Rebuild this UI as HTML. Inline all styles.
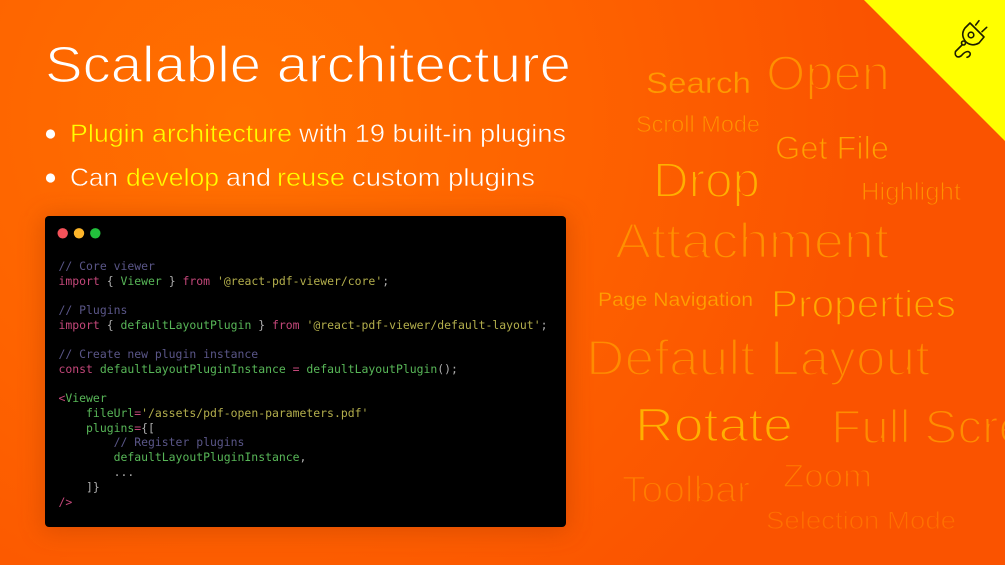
<!DOCTYPE html>
<html><head><meta charset="utf-8"><style>
html,body{margin:0;padding:0;width:1005px;height:565px;overflow:hidden}
svg{display:block}
.h{font-family:"Liberation Sans",sans-serif;font-weight:400;stroke:url(#bg);stroke-width:.5px}
.t{font-family:"Liberation Sans",sans-serif;font-weight:400;stroke:url(#bg);stroke-width:1.3px}
.w{font-family:"Liberation Sans",sans-serif;font-weight:400;stroke:url(#bg)}
.c{font-family:"DejaVu Sans Mono","Liberation Mono",monospace;font-size:11.45px;white-space:pre}
.k{fill:#c4477a}.g{fill:#58b758}.s{fill:#b3ae4c}.m{fill:#5a5688}.p{fill:#adadad}
</style></head><body>
<svg width="1005" height="565" viewBox="0 0 1005 565" xmlns="http://www.w3.org/2000/svg">
<defs>
<radialGradient id="bg" gradientUnits="userSpaceOnUse" cx="240" cy="120" r="640">
<stop offset="0" stop-color="#ff7000"/><stop offset=".5" stop-color="#fe6300"/><stop offset="1" stop-color="#fa5300"/>
</radialGradient>
<filter id="sh" x="-10%" y="-15%" width="120%" height="130%"><feGaussianBlur stdDeviation="12"/></filter>
</defs>
<rect width="1005" height="565" fill="url(#bg)"/>
<polygon points="864,0 1005,0 1005,141" fill="#ffff00"/>
<g fill="none" stroke="#1c1c00" stroke-width="1.6" stroke-linecap="round" stroke-linejoin="round">
<path d="M970 23 L984 37 L979 43 Q972 47 966 42 Q960 35 965 28 Z"/>
<circle cx="971" cy="35" r="2.800"/>
<path d="M975.700 25 L979 20.700 M982 31.700 L986.700 27.300"/>
<circle cx="963.500" cy="43" r="2"/>
<path d="M962 45 L955.500 51.500 Q954.500 55 957 56.700 Q960 57.500 962 55 Q965 51.500 968 51.500 Q971 52.500 970 55 Q969 57 967 57.300"/>
</g>
<text class="t" x="45" y="82" fill="#fff" font-size="51" textLength="526" lengthAdjust="spacingAndGlyphs">Scalable architecture</text>
<circle cx="50.500" cy="134" r="4.600" fill="#fff"/><circle cx="50.500" cy="178" r="4.600" fill="#fff"/>
<text class="h" x="70" y="142" font-size="25" fill="#ffff00" textLength="222" lengthAdjust="spacingAndGlyphs">Plugin architecture</text>
<text class="h" x="299" y="142" font-size="25" fill="#fff" textLength="267" lengthAdjust="spacingAndGlyphs">with 19 built-in plugins</text>
<text class="h" x="70" y="186" font-size="25" fill="#fff" textLength="48" lengthAdjust="spacingAndGlyphs">Can</text>
<text class="h" x="126" y="186" font-size="25" fill="#ffff00" textLength="93" lengthAdjust="spacingAndGlyphs">develop</text>
<text class="h" x="226" y="186" font-size="25" fill="#fff" textLength="45" lengthAdjust="spacingAndGlyphs">and</text>
<text class="h" x="277" y="186" font-size="25" fill="#ffff00" textLength="68" lengthAdjust="spacingAndGlyphs">reuse</text>
<text class="h" x="352" y="186" font-size="25" fill="#fff" textLength="183" lengthAdjust="spacingAndGlyphs">custom plugins</text>
<rect x="42" y="216" width="527" height="316" rx="6" fill="#b83c00" opacity=".45" filter="url(#sh)"/>
<rect x="45" y="216" width="521" height="311" rx="4" fill="#000"/>
<circle cx="62.700" cy="233.300" r="5.200" fill="#f5525a"/><circle cx="79" cy="233.300" r="5.200" fill="#fdb52a"/><circle cx="95.300" cy="233.300" r="5.200" fill="#22c03c"/>
<text class="c m" x="58.500" y="270">// Core viewer</text>
<text class="c" x="58.500" y="285"><tspan class="k">import</tspan><tspan class="p"> { </tspan><tspan class="g">Viewer</tspan><tspan class="p"> } </tspan><tspan class="k">from</tspan><tspan class="p"> </tspan><tspan class="s">'@react-pdf-viewer/core'</tspan><tspan class="p">;</tspan></text>
<text class="c m" x="58.500" y="314">// Plugins</text>
<text class="c" x="58.500" y="329"><tspan class="k">import</tspan><tspan class="p"> { </tspan><tspan class="g">defaultLayoutPlugin</tspan><tspan class="p"> } </tspan><tspan class="k">from</tspan><tspan class="p"> </tspan><tspan class="s">'@react-pdf-viewer/default-layout'</tspan><tspan class="p">;</tspan></text>
<text class="c m" x="58.500" y="358">// Create new plugin instance</text>
<text class="c" x="58.500" y="373"><tspan class="k">const</tspan><tspan class="p"> </tspan><tspan class="g">defaultLayoutPluginInstance</tspan><tspan class="p"> </tspan><tspan class="k">=</tspan><tspan class="p"> </tspan><tspan class="g">defaultLayoutPlugin</tspan><tspan class="p">();</tspan></text>
<text class="c" x="58.500" y="402"><tspan class="k">&lt;</tspan><tspan class="g">Viewer</tspan></text>
<text class="c" x="58.500" y="417"><tspan class="g">    fileUrl</tspan><tspan class="k">=</tspan><tspan class="s">'/assets/pdf-open-parameters.pdf'</tspan></text>
<text class="c" x="58.500" y="432"><tspan class="g">    plugins</tspan><tspan class="k">=</tspan><tspan class="p">{[</tspan></text>
<text class="c m" x="58.500" y="446">        // Register plugins</text>
<text class="c" x="58.500" y="461"><tspan class="g">        defaultLayoutPluginInstance</tspan><tspan class="p">,</tspan></text>
<text class="c p" x="58.500" y="476">        ...</text>
<text class="c p" x="58.500" y="491">    ]}</text>
<text class="c k" x="58.500" y="506">/&gt;</text>
<g>
<text class="w" style="stroke-width:.4px" fill="#ff9a00" x="646" y="93" font-size="30" textLength="105" lengthAdjust="spacingAndGlyphs">Search</text>
<text class="w" style="stroke-width:2.100px" fill="#ff9000" x="766" y="90" font-size="49" textLength="124" lengthAdjust="spacingAndGlyphs">Open</text>
<text class="w" style="stroke-width:.8px" fill="#ff9400" x="636" y="132" font-size="23" textLength="124" lengthAdjust="spacingAndGlyphs">Scroll Mode</text>
<text class="w" style="stroke-width:1.100px" fill="#ffa000" x="775" y="159" font-size="32" textLength="114" lengthAdjust="spacingAndGlyphs">Get File</text>
<text class="w" style="stroke-width:2px" fill="#ffb000" x="653" y="197" font-size="49" textLength="107" lengthAdjust="spacingAndGlyphs">Drop</text>
<text class="w" style="stroke-width:1px" fill="#ff9000" x="861" y="200" font-size="25" textLength="100" lengthAdjust="spacingAndGlyphs">Highlight</text>
<text class="w" style="stroke-width:2.200px" fill="#ff9000" x="615" y="258" font-size="50" textLength="274" lengthAdjust="spacingAndGlyphs">Attachment</text>
<text class="w" style="stroke-width:.2px" fill="#ffa000" x="598" y="306" font-size="19" textLength="155" lengthAdjust="spacingAndGlyphs">Page Navigation</text>
<text class="w" style="stroke-width:1.400px" fill="#ffaa00" x="771" y="317" font-size="38" textLength="185" lengthAdjust="spacingAndGlyphs">Properties</text>
<text class="w" style="stroke-width:2.200px" fill="#ff8c00" x="586" y="375" font-size="50" textLength="344" lengthAdjust="spacingAndGlyphs">Default Layout</text>
<text class="w" style="stroke-width:1.700px" fill="#ffb000" x="635" y="441" font-size="47" textLength="158" lengthAdjust="spacingAndGlyphs">Rotate</text>
<text class="w" style="stroke-width:2px" fill="#ff8c00" x="831" y="443" font-size="47" textLength="250" lengthAdjust="spacingAndGlyphs">Full Screen</text>
<text class="w" style="stroke-width:1.600px" fill="#ff7c00" x="622" y="502" font-size="37" textLength="128" lengthAdjust="spacingAndGlyphs">Toolbar</text>
<text class="w" style="stroke-width:1.400px" fill="#ff7c00" x="783" y="487" font-size="32" textLength="89" lengthAdjust="spacingAndGlyphs">Zoom</text>
<text class="w" style="stroke-width:.9px" fill="#ff7000" x="766" y="529" font-size="25" textLength="190" lengthAdjust="spacingAndGlyphs">Selection Mode</text>
</g>
</svg>
</body></html>
